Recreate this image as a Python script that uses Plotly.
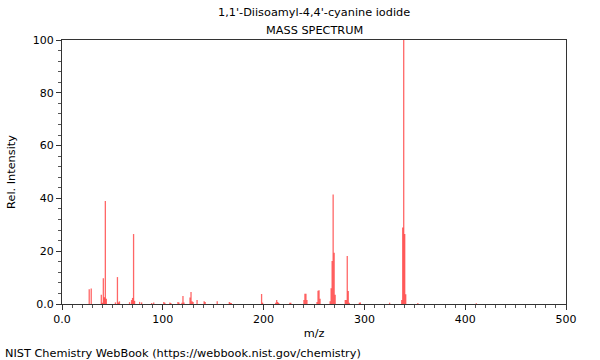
import plotly.graph_objects as go

# m/z values and relative intensities
mz = [27, 29, 39, 40, 41, 42, 43, 44, 53, 55, 56, 57, 67, 69, 70, 71, 72, 77, 79, 89, 91,
      101, 102, 107, 108, 115, 116, 119, 120, 121, 127, 128, 129, 130, 134, 141, 142, 154,
      166, 167, 168, 198, 199, 212, 213, 214, 215, 226, 227, 240, 241, 242, 243, 253, 254,
      255, 256, 266, 267, 268, 269, 270, 271, 281, 282, 283, 284, 285, 295, 296, 325, 337,
      338, 339, 340, 341, 353, 411]
intensity = [5.6, 5.9, 3.5, 0.5, 9.8, 2.6, 39.0, 2.0, 0.6, 10.2, 0.6, 1.0, 0.7, 1.5, 2.3, 26.5,
             1.2, 0.8, 0.6, 0.4, 0.6, 0.8, 0.5, 0.6, 0.4, 0.8, 0.6, 0.5, 3.0, 0.6, 2.5, 4.5,
             1.0, 0.8, 1.5, 1.0, 0.8, 1.0, 0.8, 0.5, 0.4, 3.8, 0.5, 0.5, 1.5, 0.8, 0.4, 0.5,
             0.5, 1.5, 3.9, 3.9, 1.5, 0.8, 5.0, 5.2, 2.0, 1.0, 6.0, 16.3, 41.5, 19.4, 3.5, 1.5,
             1.5, 18.2, 4.9, 0.5, 0.5, 0.6, 0.5, 1.5, 29.0, 100.0, 26.5, 3.7, 0.4, 0.3]

x_ticks = [0, 100, 200, 300, 400, 500]
x_tick_labels = ["0.0", "100", "200", "300", "400", "500"]
y_ticks = [0, 20, 40, 60, 80, 100]
y_tick_labels = ["0.0", "20", "40", "60", "80", "100"]

title_text = "1,1'-Diisoamyl-4,4'-cyanine iodide"
subtitle_text = "MASS SPECTRUM"
footer_text = "NIST Chemistry WebBook (https://webbook.nist.gov/chemistry)"

FONT = "DejaVu Sans"
ML, MR, MT, MB = 62, 34, 40, 56
W, H = 600, 360
plot_w = W - ML - MR
plot_h = H - MT - MB

# stick spectrum: vertical segments from 0 to each intensity
xs, ys = [], []
for m, v in zip(mz, intensity):
    xs += [m, m, None]
    ys += [0, v, None]

fig = go.Figure()
fig.add_trace(go.Scatter(
    x=xs, y=ys, mode="lines",
    line=dict(color="rgba(255,0,0,0.6)", width=1.3),
    hoverinfo="skip",
))

axis_common = dict(
    showline=True, linecolor="#333333", linewidth=1, mirror=True,
    showgrid=False, zeroline=False, automargin=False,
    ticks="outside", ticklen=5, tickcolor="#333333", tickwidth=1,
    tickfont=dict(family=FONT, size=11, color="#000000"),
)


def px_y(y):
    return (H - MB - y) / plot_h


def px_x(x):
    return (x - ML) / plot_w


fig.update_layout(
    width=W, height=H,
    margin=dict(l=ML, r=MR, t=MT, b=MB, autoexpand=False),
    paper_bgcolor="white", plot_bgcolor="white",
    showlegend=False,
    font=dict(family=FONT, size=11, color="#000000"),
    xaxis=dict(
        range=[0, 500], tickvals=x_ticks, ticktext=x_tick_labels,
        minor=dict(dtick=10, ticks="outside", ticklen=3, tickcolor="#555555", showgrid=False),
        title=dict(text="m/z", font=dict(family=FONT, size=11.3), standoff=3),
        **axis_common,
    ),
    yaxis=dict(
        range=[0, 100], tickvals=y_ticks, ticktext=y_tick_labels,
        minor=dict(dtick=4, ticks="outside", ticklen=3, tickcolor="#555555", showgrid=False),
        title=dict(text="Rel. Intensity", font=dict(family=FONT, size=11.3), standoff=14),
        **axis_common,
    ),
    annotations=[
        dict(text=title_text, x=0.5, y=px_y(13), xref="paper", yref="paper", showarrow=False,
             xanchor="center", yanchor="middle", font=dict(family=FONT, size=11.3)),
        dict(text=subtitle_text, x=0.5, y=px_y(30), xref="paper", yref="paper", showarrow=False,
             xanchor="center", yanchor="middle", font=dict(family=FONT, size=11.3)),
        dict(text=footer_text, x=px_x(3), y=px_y(353), xref="paper", yref="paper",
             showarrow=False, xanchor="left", yanchor="middle", font=dict(family=FONT, size=11.3)),
    ],
)

fig.write_html("out.html", config={"displayModeBar": False},
               post_script="document.body.style.margin='0px';")
